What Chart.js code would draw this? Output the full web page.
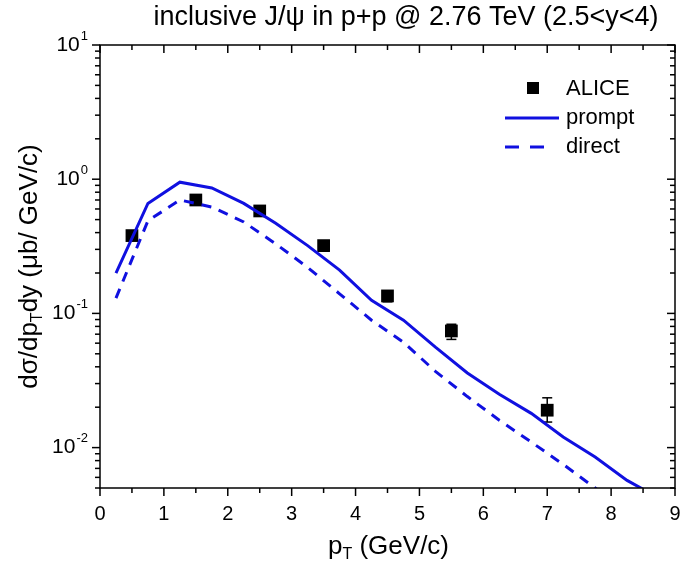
<!DOCTYPE html>
<html>
<head>
<meta charset="utf-8">
<script src="https://cdn.jsdelivr.net/npm/chart.js@4/dist/chart.umd.min.js"></script>
<style>
  html, body { margin: 0; padding: 0; background: #fff; }
  #wrap { width: 684px; height: 571px; }
</style>
</head>
<body>
<div id="wrap"><canvas id="c" width="684" height="571"></canvas></div>
<script>
// data
const aliceX = [0.5, 1.5, 2.5, 3.5, 4.5, 5.5, 7.0];
const aliceY = [0.38, 0.70, 0.58, 0.32, 0.135, 0.074, 0.019];
const aliceErrLo = [0.02, 0.04, 0.03, 0.02, 0.013, 0.010, 0.0035];
const aliceErrHi = [0.02, 0.04, 0.03, 0.02, 0.012, 0.009, 0.0045];

const theoryX = [0.25, 0.75, 1.25, 1.75, 2.25, 2.75, 3.25, 3.75, 4.25, 4.75, 5.25, 5.75, 6.25, 6.75, 7.25, 7.75, 8.25, 8.75];
const promptY = [0.20, 0.66, 0.95, 0.86, 0.66, 0.47, 0.32, 0.21, 0.125, 0.089, 0.056, 0.036, 0.025, 0.018, 0.012, 0.0085, 0.0057, 0.0042];
const directY = [0.13, 0.49, 0.70, 0.62, 0.48, 0.33, 0.22, 0.14, 0.089, 0.061, 0.037, 0.024, 0.016, 0.011, 0.0075, 0.005, 0.0033, 0.0022];

const xTicks = [0, 1, 2, 3, 4, 5, 6, 7, 8, 9];
const yDecades = [1, 0, -1, -2];

const blue = '#1010e0';
const font = '"Liberation Sans", Arial, sans-serif';

const pts = (xs, ys) => xs.map((v, i) => ({ x: v, y: ys[i] }));

function line(ctx, x1, y1, x2, y2) {
  ctx.beginPath(); ctx.moveTo(x1, y1); ctx.lineTo(x2, y2); ctx.stroke();
}

// draws [text, size, dy] pieces centred on cx
function richText(ctx, parts, cx, cy) {
  let total = 0;
  parts.forEach(p => { ctx.font = p[1] + 'px ' + font; total += ctx.measureText(p[0]).width; });
  let tx = cx - total / 2;
  ctx.textAlign = 'left';
  ctx.textBaseline = 'middle';
  parts.forEach(p => {
    ctx.font = p[1] + 'px ' + font;
    ctx.fillText(p[0], tx, cy + p[2]);
    tx += ctx.measureText(p[0]).width;
  });
}

const errorBars = {
  id: 'errorBars',
  beforeDatasetsDraw(chart) {
    const { ctx, scales: { x, y } } = chart;
    ctx.save();
    ctx.strokeStyle = '#000';
    ctx.lineWidth = 1.5;
    aliceX.forEach((v, i) => {
      const px = x.getPixelForValue(v);
      const lo = y.getPixelForValue(aliceY[i] - aliceErrLo[i]);
      const hi = y.getPixelForValue(aliceY[i] + aliceErrHi[i]);
      line(ctx, px, lo, px, hi);
      line(ctx, px - 5, lo, px + 5, lo);
      line(ctx, px - 5, hi, px + 5, hi);
    });
    ctx.restore();
  }
};

const frame = {
  id: 'frame',
  afterDraw(chart) {
    const { ctx, chartArea: a, scales: { x, y } } = chart;
    ctx.save();
    ctx.strokeStyle = '#000';
    ctx.fillStyle = '#000';
    ctx.lineWidth = 1.5;
    ctx.strokeRect(a.left, a.top, a.right - a.left, a.bottom - a.top);

    // x ticks
    for (let v = 0; v <= 9; v += 0.5) {
      const px = x.getPixelForValue(v);
      const len = v % 1 === 0 ? 8 : 5;
      line(ctx, px, a.bottom, px, a.bottom + len);
      line(ctx, px, a.top, px, a.top + len);
    }
    ctx.font = '20px ' + font;
    ctx.textAlign = 'center';
    ctx.textBaseline = 'middle';
    xTicks.forEach(v => ctx.fillText(String(v), x.getPixelForValue(v), a.bottom + 26));

    // y ticks (log)
    for (let e = -3; e <= 1; e++) {
      for (let m = 1; m <= 9; m++) {
        const val = m * Math.pow(10, e);
        if (val < y.min * 0.999 || val > y.max * 1.001) continue;
        const py = y.getPixelForValue(val);
        const len = m === 1 ? 8 : 5;
        line(ctx, a.left - len, py, a.left, py);
        line(ctx, a.right - len, py, a.right, py);
      }
    }
    yDecades.forEach(e => {
      const py = y.getPixelForValue(Math.pow(10, e));
      ctx.font = '13px ' + font;
      ctx.textAlign = 'right';
      ctx.textBaseline = 'middle';
      const exp = String(e);
      const ew = ctx.measureText(exp).width;
      ctx.fillText(exp, a.left - 12, py - 9);
      ctx.font = '21px ' + font;
      ctx.fillText('10', a.left - 13 - ew, py);
    });

    // title
    ctx.font = '27px ' + font;
    ctx.textAlign = 'center';
    ctx.textBaseline = 'middle';
    ctx.fillText('inclusive J/\u03c8 in p+p @ 2.76 TeV (2.5<y<4)', 406, 18);

    // x title: p_T (GeV/c)
    richText(ctx, [['p', 26, 0], ['T', 16, 8], [' (GeV/c)', 26, 0]], (a.left + a.right) / 2 + 1, 547);

    // y title: dσ/dp_Tdy (μb/ GeV/c)
    ctx.translate(30, (a.top + a.bottom) / 2);
    ctx.rotate(-Math.PI / 2);
    richText(ctx, [['d\u03c3/dp', 26, 0], ['T', 16, 8], ['dy (\u03bcb/ GeV/c)', 26, 0]], 0, 0);
    ctx.restore();

    // legend
    ctx.save();
    ctx.font = '22px ' + font;
    ctx.fillStyle = '#000';
    ctx.textAlign = 'left';
    ctx.textBaseline = 'middle';
    ctx.fillRect(527, 82, 12, 12);
    ctx.fillText('ALICE', 566, 89);
    ctx.strokeStyle = blue;
    ctx.lineWidth = 3;
    line(ctx, 505, 118, 559, 118);
    ctx.fillText('prompt', 566, 118);
    ctx.setLineDash([14, 11]);
    line(ctx, 505, 147, 553, 147);
    ctx.setLineDash([]);
    ctx.fillText('direct', 566, 147);
    ctx.restore();
  }
};

new Chart(document.getElementById('c'), {
  type: 'line',
  data: {
    datasets: [
      {
        label: 'ALICE',
        data: pts(aliceX, aliceY),
        showLine: false,
        pointStyle: 'rect',
        pointRadius: 9,
        backgroundColor: '#000',
        borderColor: '#000',
        borderWidth: 0,
        order: 3
      },
      {
        label: 'prompt',
        data: pts(theoryX, promptY),
        borderColor: blue,
        borderWidth: 3,
        pointRadius: 0,
        tension: 0,
        order: 1
      },
      {
        label: 'direct',
        data: pts(theoryX, directY),
        borderColor: blue,
        borderWidth: 3,
        borderDash: [10, 8],
        pointRadius: 0,
        tension: 0,
        order: 2
      }
    ]
  },
  options: {
    responsive: false,
    animation: false,
    layout: { padding: { left: 100, right: 5, top: 45, bottom: 83 } },
    plugins: { legend: { display: false }, tooltip: { enabled: false } },
    scales: {
      x: { type: 'linear', min: 0, max: 9, display: false },
      y: { type: 'logarithmic', min: 0.005, max: 10, display: false }
    }
  },
  plugins: [errorBars, frame]
});
</script>
</body>
</html>
